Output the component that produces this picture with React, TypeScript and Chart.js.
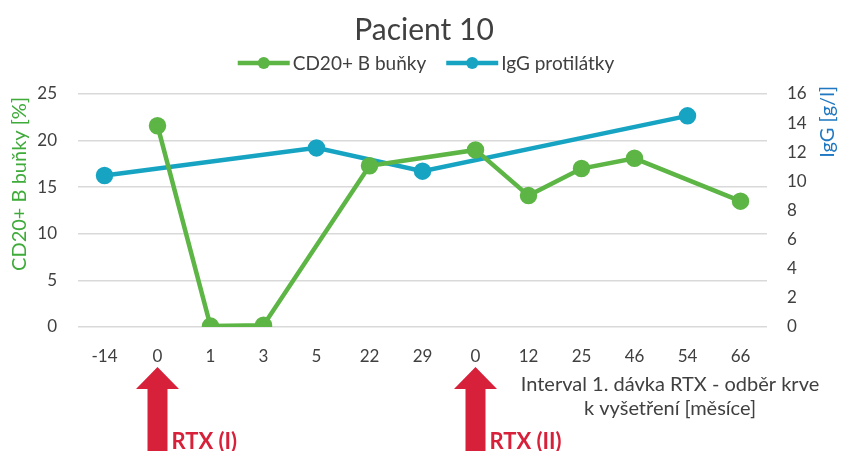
import React, { useEffect, useRef } from "react";
import { Chart, registerables } from "chart.js";

Chart.register(...registerables);

const categories = ["-14", "0", "1", "3", "5", "22", "29", "0", "12", "25", "46", "54", "66"];
const cd20Values: (number | null)[] = [null, 21.6, 0.1, 0.2, null, 17.3, null, 19.0, 14.1, 17.0, 18.1, null, 13.5];
const iggValues: (number | null)[] = [10.4, null, null, null, 12.3, null, 10.7, null, null, null, null, 14.5, null];
const rtxIndices = [1, 7];
const rtxLabels = ["RTX (I)", "RTX (II)"];
const leftTicks = [0, 5, 10, 15, 20, 25];
const rightTicks = [0, 2, 4, 6, 8, 10, 12, 14, 16];
const seriesNames = ["CD20+ B buňky", "IgG protilátky"];

const GREEN = "#5cb544";
const BLUE = "#17a4c3";
const RED = "#d7213a";
const TEXT = "#404040";
const FONT = "Lato, 'Open Sans', sans-serif";

const overlayPlugin = {
  id: "overlay",
  afterDraw(chart: any) {
    const { ctx, chartArea, scales } = chart;
    const x = scales.x;
    ctx.save();

    // title
    ctx.fillStyle = TEXT;
    ctx.textAlign = "center";
    ctx.textBaseline = "alphabetic";
    ctx.font = `30px ${FONT}`;
    ctx.fillText("Pacient 10", 424, 40);

    // legend
    ctx.font = `19px ${FONT}`;
    const colors = [GREEN, BLUE];
    const symW = 52;
    const gap = 3;
    const itemGap = 20;
    const widths = seriesNames.map((n) => ctx.measureText(n).width);
    const total = widths.reduce((a, w) => a + symW + gap + w, 0) + itemGap;
    let lx = 426 - total / 2;
    const ly = 63;
    seriesNames.forEach((n, i) => {
      ctx.strokeStyle = colors[i];
      ctx.lineWidth = 4.5;
      ctx.beginPath();
      ctx.moveTo(lx, ly);
      ctx.lineTo(lx + symW, ly);
      ctx.stroke();
      ctx.fillStyle = colors[i];
      ctx.beginPath();
      ctx.arc(lx + symW / 2, ly, 6, 0, Math.PI * 2);
      ctx.fill();
      ctx.fillStyle = TEXT;
      ctx.textAlign = "left";
      ctx.fillText(n, lx + symW + gap, 70);
      lx += symW + gap + widths[i] + itemGap;
    });

    // axis titles
    ctx.font = `20px ${FONT}`;
    ctx.textBaseline = "middle";
    ctx.fillStyle = "#3fab3a";
    ctx.save();
    ctx.translate(20, chartArea.top + 3);
    ctx.rotate(-Math.PI / 2);
    ctx.textAlign = "right";
    ctx.fillText("CD20+ B buňky [%]", 0, 0);
    ctx.restore();
    ctx.fillStyle = "#1f78c1";
    ctx.save();
    ctx.translate(828, chartArea.top - 8);
    ctx.rotate(-Math.PI / 2);
    ctx.textAlign = "right";
    ctx.fillText("IgG [g/l]", 0, 0);
    ctx.restore();

    // x-axis title
    ctx.fillStyle = TEXT;
    ctx.textAlign = "center";
    ctx.font = `20px ${FONT}`;
    ctx.fillText("Interval 1. dávka RTX - odběr krve", 670, 385);
    ctx.fillText("k vyšetření [měsíce]", 670, 409);

    // arrows
    rtxIndices.forEach((idx, i) => {
      const cx = x.getPixelForValue(idx);
      const tip = chartArea.bottom + 40;
      ctx.fillStyle = RED;
      ctx.beginPath();
      ctx.moveTo(cx, tip);
      ctx.lineTo(cx + 21.5, tip + 22);
      ctx.lineTo(cx + 10, tip + 22);
      ctx.lineTo(cx + 10, chart.height);
      ctx.lineTo(cx - 10, chart.height);
      ctx.lineTo(cx - 10, tip + 22);
      ctx.lineTo(cx - 21.5, tip + 22);
      ctx.closePath();
      ctx.fill();
      ctx.font = `bold 22px ${FONT}`;
      ctx.textAlign = "left";
      ctx.textBaseline = "alphabetic";
      ctx.fillText(rtxLabels[i], cx + 14, 449);
    });
    ctx.restore();
  },
};

export default function App() {
  const ref = useRef<HTMLCanvasElement>(null);
  useEffect(() => {
    document.body.style.margin = "0";
    const chart = new Chart(ref.current!, {
      type: "line",
      data: {
        labels: categories,
        datasets: [
          {
            label: seriesNames[0],
            data: cd20Values,
            borderColor: GREEN,
            backgroundColor: GREEN,
            borderWidth: 4.5,
            pointRadius: 6.5,
            pointHoverRadius: 6.5,
            spanGaps: true,
            yAxisID: "y",
          },
          {
            label: seriesNames[1],
            data: iggValues,
            borderColor: BLUE,
            backgroundColor: BLUE,
            borderWidth: 4.5,
            pointRadius: 6.5,
            pointHoverRadius: 6.5,
            spanGaps: true,
            yAxisID: "y1",
          },
        ],
      },
      options: {
        responsive: false,
        animation: false,
        layout: { padding: { left: 0, right: 0, top: 94, bottom: 84 } },
        plugins: {
          title: { display: false },
          legend: { display: false },
          tooltip: { enabled: false },
        },
        scales: {
          x: {
            offset: true,
            grid: { display: false, drawTicks: false, offset: true },
            border: { display: false },
            ticks: { color: TEXT, font: { family: FONT, size: 17 }, padding: 19 },
            afterFit: (s: any) => {
              s.height = 40;
            },
          },
          y: {
            position: "left",
            min: 0,
            max: 25,
            afterBuildTicks: (s: any) => {
              s.ticks = leftTicks.map((v) => ({ value: v }));
            },
            afterFit: (s: any) => {
              s.width = 78;
            },
            grid: { color: "#d9d9d9", lineWidth: 1.5, drawTicks: false },
            border: { display: false },
            ticks: { color: TEXT, font: { family: FONT, size: 17 }, padding: 21 },
          },
          y1: {
            position: "right",
            min: 0,
            max: 16,
            afterBuildTicks: (s: any) => {
              s.ticks = rightTicks.map((v) => ({ value: v }));
            },
            afterFit: (s: any) => {
              s.width = 76;
            },
            grid: { display: false, drawTicks: false },
            border: { display: false },
            ticks: { color: TEXT, font: { family: FONT, size: 17 }, padding: 20 },
          },
        },
      },
      plugins: [overlayPlugin],
    });
    return () => chart.destroy();
  }, []);
  return <canvas ref={ref} width={843} height={451} style={{ display: "block" }} />;
}
